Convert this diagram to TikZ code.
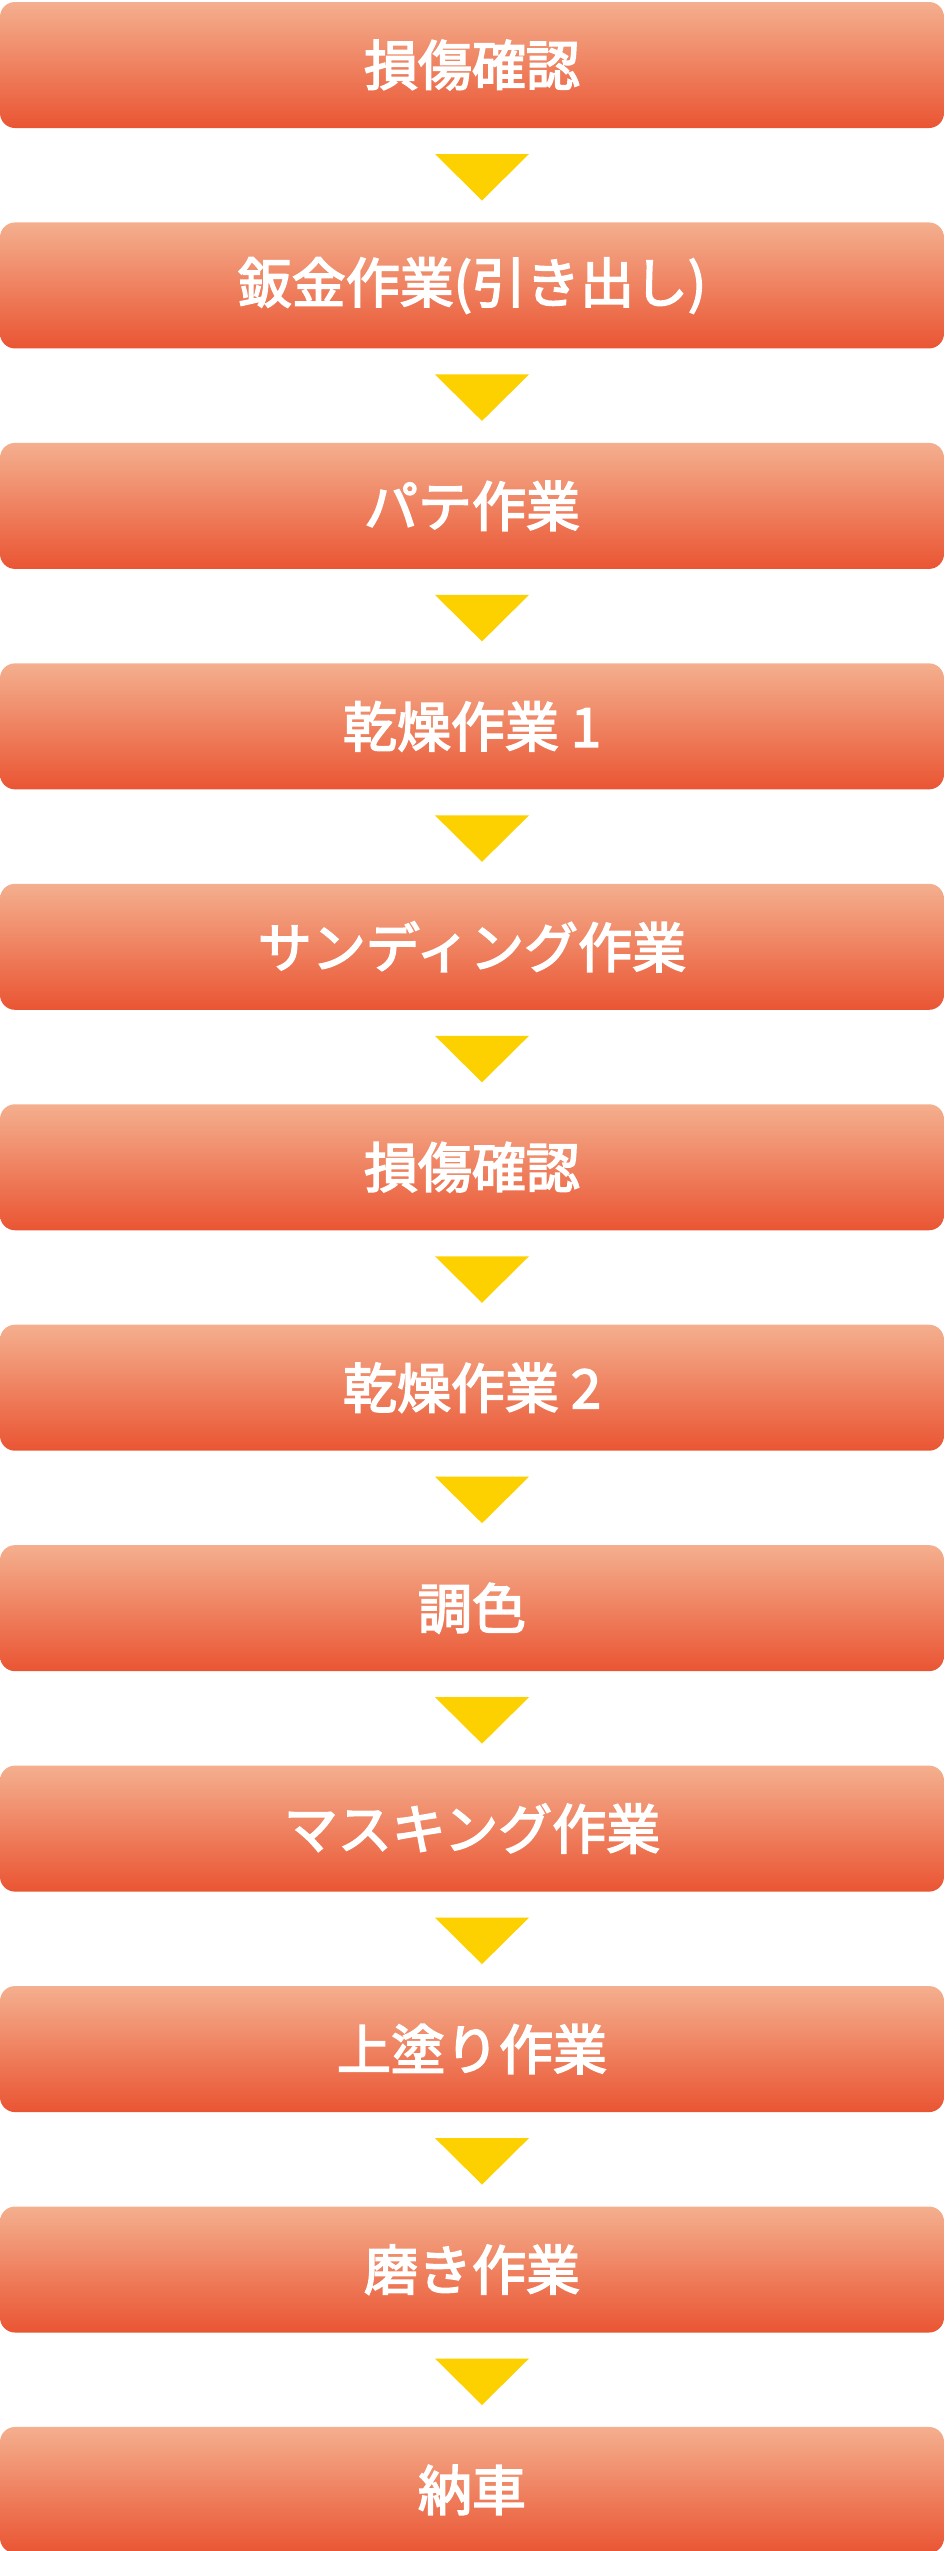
\documentclass[tikz,border=0pt]{standalone}
\usepackage{fontspec}
\usepackage{xcolor}
\usepackage{tikz}
\usetikzlibrary{positioning}
\newfontfamily\jpfont{Noto Sans CJK JP}[FakeBold=3]
\definecolor{steptop}{HTML}{F4AF8E}
\definecolor{stepbottom}{HTML}{EA5533}
\definecolor{markyellow}{HTML}{FDD000}

\begin{document}
\begin{tikzpicture}[
    x=1pt, y=1pt,
    every node/.style={inner sep=0pt, outer sep=0pt},
    stepbox/.style={rectangle, rounded corners=15pt, minimum width=944pt, minimum height=126pt,
        top color=steptop, bottom color=stepbottom, text=white,
        font=\jpfont\fontsize{54pt}{60pt}\selectfont},
    flowmark/.style={fill=markyellow, draw=none}
]
    \useasboundingbox (0,0) rectangle (945,-2551);

    % --- STEPS (top to bottom) ---
    \node[stepbox] (check1)  at (472,-65)      {損傷確認};
    \node[stepbox] (sheet)   at (472,-285.45)  {鈑金作業(引き出し)};
    \node[stepbox] (putty)   at (472,-505.9)   {パテ作業};
    \node[stepbox] (dry1)    at (472,-726.35)  {乾燥作業 1};
    \node[stepbox] (sand)    at (472,-946.8)   {サンディング作業};
    \node[stepbox] (check2)  at (472,-1167.25) {損傷確認};
    \node[stepbox] (dry2)    at (472,-1387.7)  {乾燥作業 2};
    \node[stepbox] (tone)    at (472,-1608.15) {調色};
    \node[stepbox] (mask)    at (472,-1828.6)  {マスキング作業};
    \node[stepbox] (topcoat) at (472,-2049.05) {上塗り作業};
    \node[stepbox] (polish)  at (472,-2269.5)  {磨き作業};
    \node[stepbox] (deliver) at (472,-2489.95) {納車};

    % --- MARKS (yellow triangles below each step) ---
    \fill[flowmark] ([xshift=-37pt,yshift=-26pt]check1.south)  -- ++(94,0) -- ++(-47,-46.5) -- cycle;
    \fill[flowmark] ([xshift=-37pt,yshift=-26pt]sheet.south)   -- ++(94,0) -- ++(-47,-46.5) -- cycle;
    \fill[flowmark] ([xshift=-37pt,yshift=-26pt]putty.south)   -- ++(94,0) -- ++(-47,-46.5) -- cycle;
    \fill[flowmark] ([xshift=-37pt,yshift=-26pt]dry1.south)    -- ++(94,0) -- ++(-47,-46.5) -- cycle;
    \fill[flowmark] ([xshift=-37pt,yshift=-26pt]sand.south)    -- ++(94,0) -- ++(-47,-46.5) -- cycle;
    \fill[flowmark] ([xshift=-37pt,yshift=-26pt]check2.south)  -- ++(94,0) -- ++(-47,-46.5) -- cycle;
    \fill[flowmark] ([xshift=-37pt,yshift=-26pt]dry2.south)    -- ++(94,0) -- ++(-47,-46.5) -- cycle;
    \fill[flowmark] ([xshift=-37pt,yshift=-26pt]tone.south)    -- ++(94,0) -- ++(-47,-46.5) -- cycle;
    \fill[flowmark] ([xshift=-37pt,yshift=-26pt]mask.south)    -- ++(94,0) -- ++(-47,-46.5) -- cycle;
    \fill[flowmark] ([xshift=-37pt,yshift=-26pt]topcoat.south) -- ++(94,0) -- ++(-47,-46.5) -- cycle;
    \fill[flowmark] ([xshift=-37pt,yshift=-26pt]polish.south)  -- ++(94,0) -- ++(-47,-46.5) -- cycle;

\end{tikzpicture}
\end{document}
